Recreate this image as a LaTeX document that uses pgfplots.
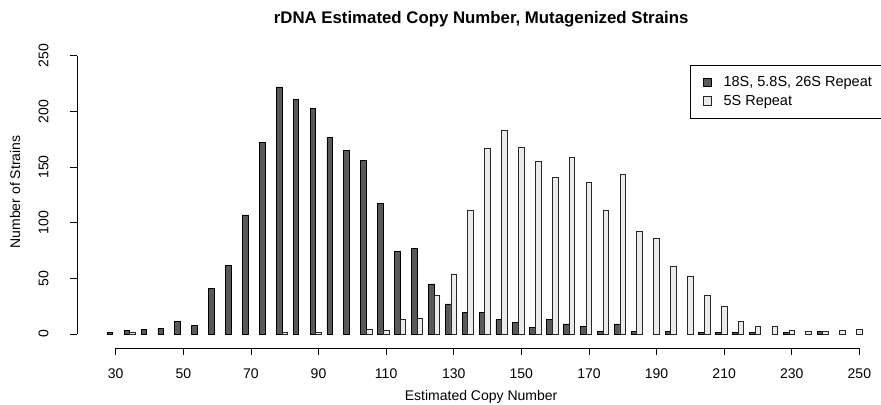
\documentclass[border=0pt]{standalone}
\usepackage{fontspec}
\setmainfont{Liberation Sans}
\usepackage{pgfplots}
\pgfplotsset{compat=1.18}
\definecolor{darkbar}{HTML}{595959}
\definecolor{lightbar}{HTML}{EBEBEB}
\pgfplotsset{sqleg/.style={legend image code/.code={\draw[##1,line width=0.8pt] (0pt,-4.25pt) rectangle (8.5pt,4.25pt);}}}
\begin{document}
\begin{tikzpicture}
\begin{axis}[
  scale only axis, width=793pt, height=298pt,
  xmin=18.55, xmax=253.2, ymin=-12.6, ymax=255.2,
  axis lines*=left, axis line style={draw=none},
  tick align=outside, major tick length=7pt,
  tick style={black, line width=0.8pt},
  xtick={30,50,...,250}, ytick={0,50,...,250},
  minor tick num=0,
  /pgf/number format/assume math mode=true,
  ticklabel style={font=\fontsize{14}{16}\selectfont},
  xticklabel style={anchor=base, yshift=-23pt},
  yticklabel style={anchor=base, xshift=-21.7pt, rotate=90},
  clip=false,
  legend style={at={(axis cs:199.9,242.1)}, anchor=north west, draw=black, line width=0.8pt,
    font=\fontsize{14.5}{17}\selectfont, inner xsep=12.3pt, inner ysep=10.5pt, row sep=5pt,
    nodes={inner sep=0pt, text height=11.5pt, text depth=2pt}},
  legend cell align=left,
]
\addplot[ybar, bar width=1.6667, bar shift=-1.6667, fill=darkbar, draw=black, line width=0.8pt, sqleg]
table[row sep=\\] {
x y\\
30 1\\ 35 3\\ 40 4\\ 45 5\\ 50 11\\ 55 8\\ 60 41\\ 65 62\\ 70 107\\ 75 172\\
80 222\\ 85 211\\ 90 203\\ 95 177\\ 100 165\\ 105 156\\ 110 117\\ 115 74\\ 120 77\\ 125 45\\
130 27\\ 135 19\\ 140 19\\ 145 13\\ 150 10\\ 155 6\\ 160 13\\ 165 9\\ 170 7\\ 175 2\\
180 9\\ 185 2\\ 195 2\\ 205 1\\ 210 1\\ 215 1\\ 220 1\\ 230 1\\ 240 2\\
};
\addlegendentry{\hspace*{11.5pt}18S, 5.8S, 26S Repeat}
\addplot[ybar, bar width=1.6667, bar shift=0, fill=lightbar, draw=black!85, line width=0.8pt, sqleg]
table[row sep=\\] {
x y\\
35 1\\ 80 1\\ 90 1\\ 105 4\\ 110 3\\ 115 13\\ 120 14\\ 125 35\\
130 54\\ 135 111\\ 140 167\\ 145 183\\ 150 168\\ 155 155\\ 160 141\\ 165 159\\ 170 136\\ 175 111\\
180 143\\ 185 92\\ 190 86\\ 195 61\\ 200 52\\ 205 35\\ 210 25\\ 215 11\\ 220 7\\ 225 7\\
230 3\\ 235 2\\ 240 2\\ 245 3\\ 250 4\\
};
\addlegendentry{\hspace*{11.5pt}5S Repeat}
\draw[black, line width=0.8pt] (axis cs:30,-12.6) -- (axis cs:250,-12.6);
\draw[black, line width=0.8pt] (axis cs:18.55,0) -- (axis cs:18.55,250);
\node[anchor=base, font=\bfseries\fontsize{16.8}{19}\selectfont] at (axis cs:138.1,278.6) {rDNA Estimated Copy Number, Mutagenized Strains};
\node[anchor=base, font=\fontsize{14}{16}\selectfont] at (axis cs:138.1,-59.3) {Estimated Copy Number};
\node[anchor=base, rotate=90, font=\fontsize{14}{16}\selectfont] at (axis cs:1.69,127.6) {Number of Strains};
\coordinate (bbll) at (axis cs:-4.23,-62.9);
\coordinate (bbur) at (axis cs:256.4,300.1);
\end{axis}
\pgfresetboundingbox
\useasboundingbox (bbll) rectangle (bbur);
\end{tikzpicture}
\end{document}
